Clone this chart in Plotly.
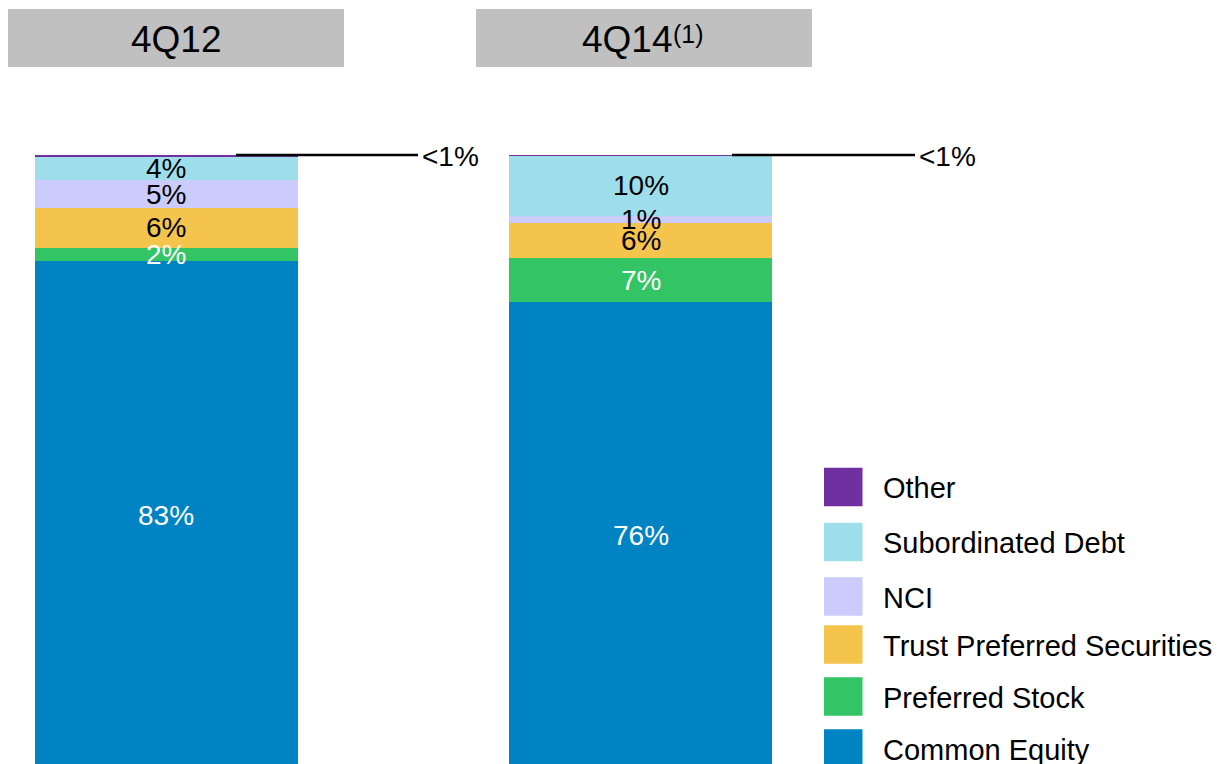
import plotly.graph_objects as go

# ---------------- data ----------------
periods = ["4Q12", "4Q14"]
header_labels = ["4Q12", "4Q14"]
header_notes = ["", "(1)"]

components = ["Common Equity", "Preferred Stock", "Trust Preferred Securities",
              "NCI", "Subordinated Debt", "Other"]
common_equity = [82.8, 76.1]
preferred_stock = [2.1, 7.1]
trust_preferred = [6.5, 5.7]
nci = [4.5, 1.2]
subordinated_debt = [3.8, 9.8]
other = [0.3, 0.1]

label_common_equity = ["83%", "76%"]
label_preferred_stock = ["2%", "7%"]
label_trust_preferred = ["6%", "6%"]
label_nci = ["5%", "1%"]
label_subordinated_debt = ["4%", "10%"]
label_other = ["<1%", "<1%"]

# ---------------- styles ----------------
colors = {
    "Common Equity": "#0083C3",
    "Preferred Stock": "#33C466",
    "Trust Preferred Securities": "#F5C44C",
    "NCI": "#CCCCFC",
    "Subordinated Debt": "#9EDEEB",
    "Other": "#7030A0",
}
text_colors = {
    "Common Equity": "white",
    "Preferred Stock": "white",
    "Trust Preferred Securities": "black",
    "NCI": "black",
    "Subordinated Debt": "black",
    "Other": "black",
}
FONT = "Liberation Sans, Arial, sans-serif"
W, H = 1220, 764

series = {
    "Common Equity": (common_equity, label_common_equity),
    "Preferred Stock": (preferred_stock, label_preferred_stock),
    "Trust Preferred Securities": (trust_preferred, label_trust_preferred),
    "NCI": (nci, label_nci),
    "Subordinated Debt": (subordinated_debt, label_subordinated_debt),
    "Other": (other, label_other),
}


def px(xp):
    return xp / W


def py(yp):
    return 1 - yp / H


fig = go.Figure()
for name in components:
    vals, _ = series[name]
    fig.add_trace(go.Bar(
        x=periods, y=vals, name=name, width=0.5544,
        marker=dict(color=colors[name], line=dict(width=0)),
        showlegend=False, hoverinfo="skip",
    ))

annotations = []
shapes = []

# segment labels centred in each segment
bottoms = [0.0] * len(periods)
for name in components:
    vals, labels = series[name]
    for i, p in enumerate(periods):
        if name != "Other":
            annotations.append(dict(
                x=p, y=bottoms[i] + vals[i] / 2, xref="x", yref="y",
                text=labels[i], showarrow=False,
                font=dict(family=FONT, size=28, color=text_colors[name]),
                xanchor="center", yanchor="middle",
            ))
        bottoms[i] += vals[i]

# "<1%" callouts for Other
callout_line_x = [(236, 418), (732, 915)]
callout_text_x = [420, 917]
for i, p in enumerate(periods):
    top = bottoms[i]
    x0, x1 = callout_line_x[i]
    shapes.append(dict(type="line", xref="paper", yref="y",
                       x0=px(x0), x1=px(x1), y0=top, y1=top,
                       line=dict(color="black", width=2.5)))
    annotations.append(dict(
        x=px(callout_text_x[i]), y=top, xref="paper", yref="y",
        text=label_other[i], showarrow=False, yshift=-1,
        font=dict(family=FONT, size=28, color="black"),
        xanchor="left", yanchor="middle",
    ))

# header boxes
header_boxes = [(8, 344), (476, 812)]
header_text_center = [176, 627]
for i, (x0, x1) in enumerate(header_boxes):
    shapes.append(dict(type="rect", xref="paper", yref="paper",
                       x0=px(x0), x1=px(x1), y0=py(67), y1=py(9),
                       fillcolor="#C0C0C0", line=dict(width=0), layer="below"))
    annotations.append(dict(
        x=px(header_text_center[i]), y=py(39), xref="paper", yref="paper",
        text=header_labels[i], showarrow=False,
        font=dict(family=FONT, size=37, color="black"),
        xanchor="center", yanchor="middle",
    ))
    if header_notes[i]:
        annotations.append(dict(
            x=px(671), y=py(34), xref="paper", yref="paper",
            text=header_notes[i], showarrow=False,
            font=dict(family=FONT, size=25, color="black"),
            xanchor="left", yanchor="middle",
        ))

# custom legend
legend_order = ["Other", "Subordinated Debt", "NCI", "Trust Preferred Securities",
                "Preferred Stock", "Common Equity"]
legend_row_y = [487, 542, 596.5, 644.5, 696.5, 748.5]
for name, yc in zip(legend_order, legend_row_y):
    shapes.append(dict(type="rect", xref="paper", yref="paper",
                       x0=px(824), x1=px(862.5), y0=py(yc + 19.3), y1=py(yc - 19.3),
                       fillcolor=colors[name], line=dict(width=0)))
    annotations.append(dict(
        x=px(881), y=py(yc + 1), xref="paper", yref="paper",
        text=name, showarrow=False,
        font=dict(family=FONT, size=29, color="black"),
        xanchor="left", yanchor="middle",
    ))

# axis mapping (100% at y=155px, 0% at y=770px)
scale = 6.15
ymax = 100 + 155 / scale
ymin = ymax - H / scale

fig.update_layout(
    width=W, height=H,
    margin=dict(l=0, r=0, t=0, b=0),
    paper_bgcolor="white", plot_bgcolor="white",
    barmode="stack", bargap=0,
    xaxis=dict(type="category", range=[-0.3508, 2.2209], visible=False,
               fixedrange=True),
    yaxis=dict(range=[ymin, ymax], visible=False, fixedrange=True),
    shapes=shapes, annotations=annotations,
    font=dict(family=FONT),
)

fig.write_html("out.html")
